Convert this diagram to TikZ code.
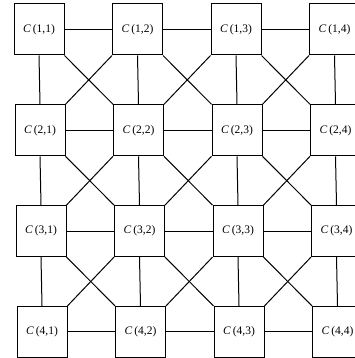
\documentclass[tikz,border=0pt]{standalone}
\usepackage{fontspec}
\setmainfont{Liberation Serif}
\begin{document}
\begin{tikzpicture}[x=1pt,y=-1pt,
  cell/.style={draw, line width=1pt, minimum width=50pt, minimum height=51pt, inner sep=0pt, font=\fontsize{11.5}{13}\selectfont},
  link/.style={line width=1pt}]
\useasboundingbox (0,0) rectangle (354,358);
\foreach \r in {1,...,4}{
  \foreach \c in {1,...,4}{
    \node[cell] (n\r\c) at ({39+(\c-1)*98.5+(\r-1)*1.0},{29.5+(\r-1)*100.8}) {\textit{C}\,(\r,\c)};
  }
}
\foreach \r in {1,...,4}{
  \foreach \c [evaluate=\c as \cn using int(\c+1)] in {1,2,3}{
    \draw[link] (n\r\c.east) -- (n\r\cn.west);
  }
}
\foreach \r [evaluate=\r as \rn using int(\r+1)] in {1,2,3}{
  \foreach \c in {1,...,4}{
    \draw[link] (n\r\c.south) -- (n\rn\c.north);
  }
  \foreach \c [evaluate=\c as \cn using int(\c+1)] in {1,2,3}{
    \draw[link] (n\r\c.south east) -- (n\rn\cn.north west);
    \draw[link] (n\r\cn.south west) -- (n\rn\c.north east);
  }
}
\end{tikzpicture}
\end{document}
